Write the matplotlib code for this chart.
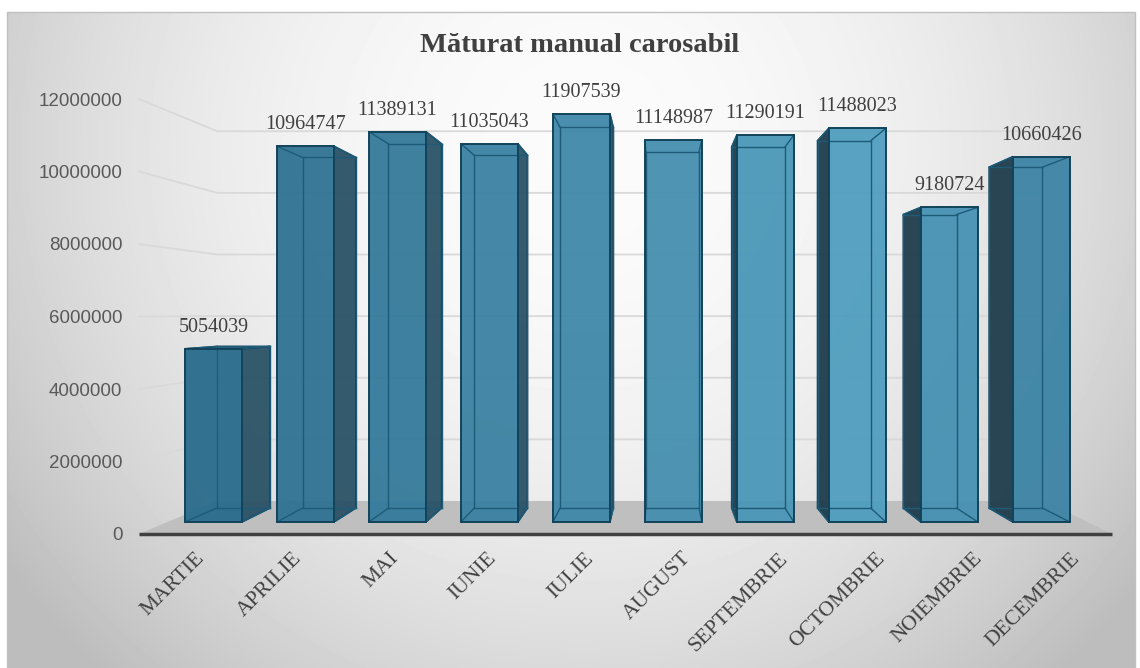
import numpy as np
import matplotlib.pyplot as plt
from matplotlib.patches import Polygon
import matplotlib.colors as mcolors

months = ['MARTIE', 'APRILIE', 'MAI', 'IUNIE', 'IULIE', 'AUGUST',
          'SEPTEMBRIE', 'OCTOMBRIE', 'NOIEMBRIE', 'DECEMBRIE']
values = [5054039, 10964747, 11389131, 11035043, 11907539, 11148987,
          11290191, 11488023, 9180724, 10660426]
yticks = [0, 2000000, 4000000, 6000000, 8000000, 10000000, 12000000]
title = 'Măturat manual carosabil'

W, H = 1140, 668
fig = plt.figure(figsize=(W / 100, H / 100), dpi=100)

# background with the soft radial gradient of the chart area
bg = fig.add_axes([0, 0, 1, 1])
bg.set_xlim(0, W)
bg.set_ylim(H, 0)
bg.axis('off')
xx, yy = np.meshgrid(np.arange(W), np.arange(H))
r2 = ((xx - 580) / 640) ** 2 + ((yy - 150) / 640) ** 2
shade = np.clip(0.985 - 0.2 * r2, 0.74, 1)
shade[(yy < 12) | (xx < 7) | (xx > 1135)] = 1
bg.imshow(shade, cmap='gray', vmin=0, vmax=1, extent=(0, W, H, 0),
          interpolation='bilinear', aspect='auto')
bg.plot([7, 7, 1135, 1135], [H, 12, 12, H], color='#c0c0c0', lw=1)

fig.text(580 / W, 1 - 46 / H, title, ha='center', va='center', fontsize=20.5,
         fontweight='bold', family='Liberation Serif', color='#404040')

# front plane of the 3d box: x = category, y = value
ax = fig.add_axes([139 / W, (H - 534) / H, 973 / W, 435 / H])
ax.set_xlim(-0.5, 9.5)
ax.set_ylim(0, 12000000)
ax.patch.set_visible(False)
for s in ax.spines.values():
    s.set_visible(False)
ax.set_xticks([])
ax.set_yticks(yticks, [str(t) for t in yticks])
ax.tick_params(axis='y', length=0, pad=12, labelsize=13.5, labelcolor='#595959')
for lab in ax.get_yticklabels():
    lab.set_family('Liberation Sans')

# perspective: everything shrinks toward the vanishing point with depth
XV, VV = 4.855, 6070000
S_WALL, SF, SB = 0.85, 0.945, 0.882
HW = 0.31


def proj(x, v, s):
    return XV + (x - XV) * s, VV + (v - VV) * s


floor = [proj(-0.5, 0, 1), proj(9.5, 0, 1), proj(9.5, 0, S_WALL), proj(-0.5, 0, S_WALL)]
ax.add_patch(Polygon(floor, closed=True, fc='#bfbfbf', ec='none', clip_on=False, zorder=1))
ax.plot([-0.5, 9.5], [0, 0], color='#404040', lw=2.5, solid_capstyle='butt',
        clip_on=False, zorder=2)

for t in yticks[1:]:
    p = [proj(-0.5, t, 1), proj(-0.5, t, S_WALL), proj(9.5, t, S_WALL)]
    ax.plot([q[0] for q in p], [q[1] for q in p], color='#d9d9d9', lw=1.3,
            clip_on=False, zorder=1.5)

c_left = np.array(mcolors.to_rgb('#286a8b'))
c_mid = np.array(mcolors.to_rgb('#4f9dbe'))
c_right = np.array(mcolors.to_rgb('#3b83a5'))

for i, v in enumerate(values):
    if i <= 7:
        fc = c_left + (c_mid - c_left) * i / 7
    else:
        fc = c_mid + (c_right - c_mid) * (i - 7) / 2
    xl, xr = i - HW, i + HW
    front = [proj(xl, 0, SF), proj(xr, 0, SF), proj(xr, v, SF), proj(xl, v, SF)]
    back = [proj(xl, 0, SB), proj(xr, 0, SB), proj(xr, v, SB), proj(xl, v, SB)]
    z = 3 + i * 0.01
    # hidden edges, seen through the glassy faces
    for a, b in [(0, 1), (1, 2), (2, 3), (3, 0)]:
        ax.plot([back[a][0], back[b][0]], [back[a][1], back[b][1]],
                color='#1d5b78', lw=1, zorder=z + 0.004, clip_on=False)
    for k in range(4):
        ax.plot([front[k][0], back[k][0]], [front[k][1], back[k][1]],
                color='#1d5b78', lw=1, zorder=z + 0.004, clip_on=False)
    if xr < XV:
        sx, sc = xr, '#2a5266'
    elif xl > XV:
        sx, sc = xl, '#1f3c4b'
    else:
        sx = None
    if sx is not None:
        side = [proj(sx, 0, SF), proj(sx, 0, SB), proj(sx, v, SB), proj(sx, v, SF)]
        ax.add_patch(Polygon(side, closed=True, fc=sc, ec='#12435a', lw=1.2,
                             alpha=0.95, zorder=z + 0.001, clip_on=False))
    if v < VV:
        top = [proj(xl, v, SF), proj(xr, v, SF), proj(xr, v, SB), proj(xl, v, SB)]
        ax.add_patch(Polygon(top, closed=True, fc=fc, ec='#12435a', lw=1.2,
                             alpha=0.95, zorder=z + 0.002, clip_on=False))
    ax.add_patch(Polygon(front, closed=True, fc=fc, ec='none', alpha=0.94,
                         zorder=z + 0.003, clip_on=False))
    ax.add_patch(Polygon(front, closed=True, fc='none', ec='#12435a', lw=1.4,
                         zorder=z + 0.005, clip_on=False))
    xc, yt = proj(i, v, SF)
    ax.annotate(str(v), (xc, yt), xytext=(0, 12), textcoords='offset pixels',
                ha='center', va='bottom', fontsize=14.5, family='Liberation Serif',
                color='#404040', zorder=10, annotation_clip=False)

for i, m in enumerate(months):
    ax.annotate(m, (i, 0), xytext=(7, -15), textcoords='offset pixels', rotation=45,
                rotation_mode='anchor', ha='right', va='top', fontsize=15.5,
                family='Liberation Serif', color='#404040', annotation_clip=False)

fig.savefig('out.png', dpi=100)
